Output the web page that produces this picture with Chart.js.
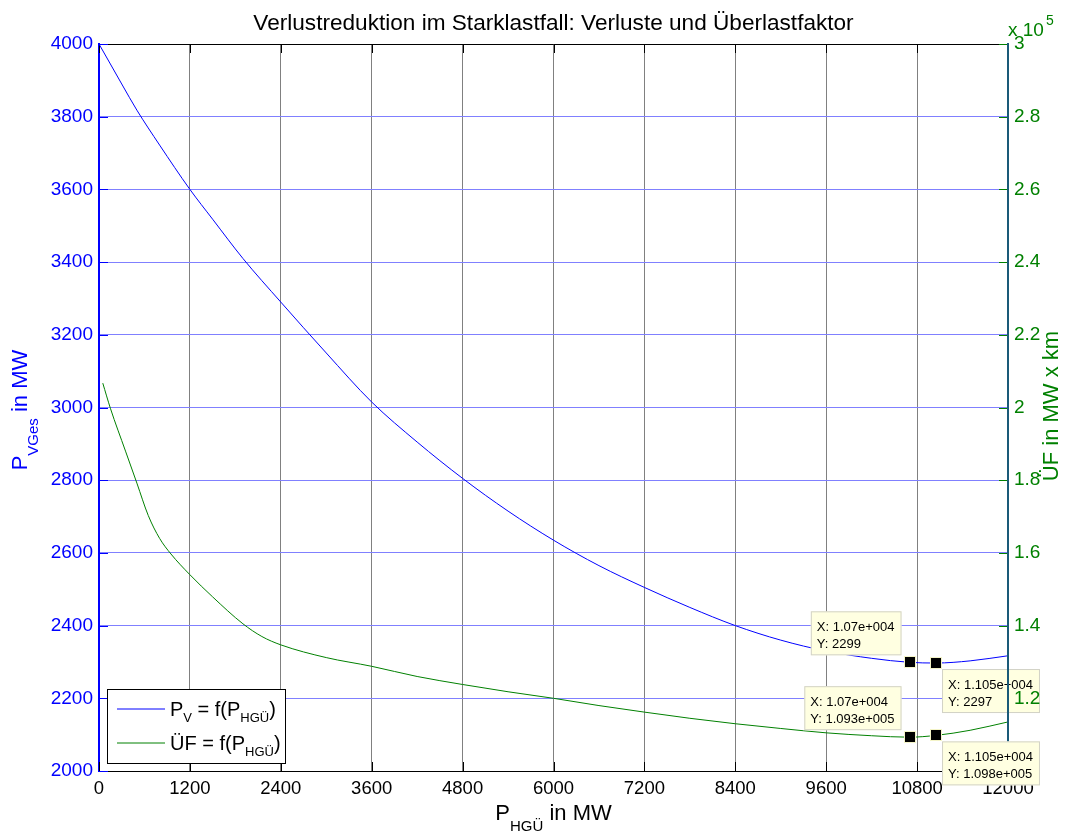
<!DOCTYPE html>
<html>
<head>
<meta charset="utf-8">
<script src="https://cdn.jsdelivr.net/npm/chart.js@4.4.1/dist/chart.umd.min.js"></script>
<style>
  html, body { margin: 0; padding: 0; background: #fff; }
  #wrap { width: 1070px; height: 832px; position: relative; }
</style>
</head>
<body>
<div id="wrap"><canvas id="verlustChart"></canvas></div>
<script>
// P_V = f(P_HGÜ), MW
const pvX = [0, 150, 300, 500, 800, 1200, 1500, 1900, 2400, 3000, 3600, 4200, 4800, 5400, 6000, 6600, 7200, 7800, 8400, 9000, 9600, 10200, 10700, 11050, 11500, 12000];
const pvVal = [4000, 3945, 3890, 3818, 3722, 3600, 3518, 3410, 3290, 3150, 3015, 2905, 2805, 2715, 2635, 2565, 2505, 2450, 2400, 2360, 2330, 2310, 2299, 2297, 2303, 2317];

// ÜF = f(P_HGÜ), MW x km
const ufX = [50, 150, 350, 500, 650, 800, 950, 1200, 1500, 1900, 2150, 2400, 3000, 3600, 4200, 4800, 5400, 6000, 6600, 7200, 7800, 8400, 9000, 9600, 10200, 10700, 11050, 11500, 12000];
const ufVal = [206700, 199800, 188000, 179200, 170300, 164000, 159700, 154000, 147900, 140500, 137000, 134700, 131200, 128800, 126000, 123800, 121800, 120000, 118000, 116200, 114500, 113000, 111700, 110500, 109700, 109300, 109800, 111200, 113500];

// Datatips
const tipX = [10700, 11050, 10700, 11050];
const tipY = [2299, 2297, 109300, 109800];
const tipAxis = ["y", "y", "y2", "y2"];
const tipText = [
    ["X: 1.07e+004", "Y: 2299"],
    ["X: 1.105e+004", "Y: 2297"],
    ["X: 1.07e+004", "Y: 1.093e+005"],
    ["X: 1.105e+004", "Y: 1.098e+005"]
];

const FONT = "'Liberation Sans', Arial, sans-serif";
const BLUE = "#0000ff";
const GREEN = "#008000";

// Text mit Tiefstellungen zeichnen
function richWidth(ctx, parts, size, subSize) {
    let w = 0;
    parts.forEach(p => {
        ctx.font = (p.sub ? subSize : size) + "px " + FONT;
        w += ctx.measureText(p.t).width;
    });
    return w;
}
function drawRich(ctx, parts, x, y, size, subSize, drop) {
    let cx = x;
    parts.forEach(p => {
        ctx.font = (p.sub ? subSize : size) + "px " + FONT;
        ctx.fillText(p.t, cx, p.sub ? y + drop : y);
        cx += ctx.measureText(p.t).width;
    });
}

function drawTip(ctx, i, px, py, side) {
    ctx.font = "13px " + FONT;
    const w = Math.max(...tipText[i].map(t => ctx.measureText(t).width)) + 13;
    const h = 44;
    let left, top;
    if (side === "ul") { left = px - 8 - w; top = py - 7 - h; }
    else { left = px + 6; top = py + 6; }
    ctx.fillStyle = "#ffffe1";
    ctx.fillRect(left, top, w, h);
    ctx.strokeStyle = "#d2d2c6";
    ctx.lineWidth = 1;
    ctx.strokeRect(left + 0.5, top + 0.5, w - 1, h - 1);
    ctx.fillStyle = "#000";
    ctx.textAlign = "left";
    ctx.textBaseline = "alphabetic";
    ctx.fillText(tipText[i][0], left + 6, top + 20);
    ctx.fillText(tipText[i][1], left + 6, top + 37);
}

const tipSides = ["ul", "dr", "ul", "dr"];

const decorPlugin = {
    id: "decor",
    beforeDatasetsDraw(chart) {
        const { ctx, chartArea: a, scales } = chart;
        ctx.save();
        // obere Rahmenlinie
        ctx.strokeStyle = "#000";
        ctx.lineWidth = 1;
        ctx.beginPath();
        ctx.moveTo(a.left, a.top + 0.5);
        ctx.lineTo(a.right, a.top + 0.5);
        ctx.stroke();
        // Tickmarken nach innen
        const tl = 9;
        scales.x.ticks.forEach(t => {
            const px = Math.round(scales.x.getPixelForValue(t.value)) + 0.5;
            ctx.beginPath();
            ctx.moveTo(px, a.bottom); ctx.lineTo(px, a.bottom - tl);
            ctx.moveTo(px, a.top); ctx.lineTo(px, a.top + tl);
            ctx.stroke();
        });
        ctx.strokeStyle = BLUE;
        scales.y.ticks.forEach(t => {
            const py = Math.round(scales.y.getPixelForValue(t.value)) + 0.5;
            ctx.beginPath();
            ctx.moveTo(a.left, py); ctx.lineTo(a.left + tl, py);
            ctx.stroke();
        });
        ctx.strokeStyle = GREEN;
        scales.y2.ticks.forEach(t => {
            const py = Math.round(scales.y2.getPixelForValue(t.value)) + 0.5;
            ctx.beginPath();
            ctx.moveTo(a.right, py); ctx.lineTo(a.right - tl, py);
            ctx.stroke();
        });
        ctx.restore();
    },
    afterDatasetsDraw(chart) {
        // Datatip rechts oben liegt unter der rechten Achse
        const { ctx, scales } = chart;
        ctx.save();
        drawTip(ctx, 1, scales.x.getPixelForValue(tipX[1]), scales.y.getPixelForValue(tipY[1]), tipSides[1]);
        ctx.restore();
    },
    afterDraw(chart) {
        const { ctx, chartArea: a, scales } = chart;
        ctx.save();
        [0, 2, 3].forEach(i => {
            drawTip(ctx, i, scales.x.getPixelForValue(tipX[i]), scales[tipAxis[i]].getPixelForValue(tipY[i]), tipSides[i]);
        });
        // Marker
        tipX.forEach((xv, i) => {
            const px = Math.round(scales.x.getPixelForValue(xv));
            const py = Math.round(scales[tipAxis[i]].getPixelForValue(tipY[i]));
            ctx.fillStyle = "#f4f4c8";
            ctx.fillRect(px - 6, py - 6, 12, 12);
            ctx.fillStyle = "#000";
            ctx.fillRect(px - 5, py - 5, 10, 10);
        });

        ctx.textBaseline = "alphabetic";
        ctx.textAlign = "left";

        // Titel
        ctx.fillStyle = "#000";
        ctx.font = "22.6px " + FONT;
        const title = "Verlustreduktion im Starklastfall: Verluste und Überlastfaktor";
        const cx = (a.left + a.right) / 2;
        ctx.fillText(title, cx - ctx.measureText(title).width / 2, 30);

        // x-Achsentitel
        const xParts = [{ t: "P" }, { t: "HGÜ", sub: true }, { t: " in MW" }];
        const xw = richWidth(ctx, xParts, 22, 15);
        ctx.fillStyle = "#000";
        drawRich(ctx, xParts, cx - xw / 2, 820, 22, 15, 11);

        // linker Achsentitel
        const yParts = [{ t: "P" }, { t: "VGes", sub: true }, { t: " in MW" }];
        const yw = richWidth(ctx, yParts, 22, 15);
        ctx.save();
        ctx.translate(27, 410);
        ctx.rotate(-Math.PI / 2);
        ctx.fillStyle = BLUE;
        drawRich(ctx, yParts, -yw / 2, 0, 22, 15, 11);
        ctx.restore();

        // rechter Achsentitel
        ctx.save();
        ctx.translate(1058, 406);
        ctx.rotate(-Math.PI / 2);
        ctx.fillStyle = GREEN;
        ctx.font = "22px " + FONT;
        const rt = "ÜF in MW x km";
        ctx.fillText(rt, -ctx.measureText(rt).width / 2, 0);
        ctx.restore();

        // x 10^5
        ctx.fillStyle = GREEN;
        ctx.font = "19px " + FONT;
        ctx.fillText("x 10", a.right, 36);
        const ew = ctx.measureText("x 10").width;
        ctx.font = "14px " + FONT;
        ctx.fillText("5", a.right + ew + 2, 25);

        // Legende
        const lx = 107, ly = 689, lw = 178, lh = 74;
        ctx.fillStyle = "#fff";
        ctx.fillRect(lx, ly, lw, lh);
        ctx.strokeStyle = "#000";
        ctx.lineWidth = 1;
        ctx.strokeRect(lx + 0.5, ly + 0.5, lw, lh);
        const entries = [
            { color: BLUE, y: 709, parts: [{ t: "P" }, { t: "V", sub: true }, { t: " = f(P" }, { t: "HGÜ", sub: true }, { t: ")" }] },
            { color: GREEN, y: 743, parts: [{ t: "ÜF = f(P" }, { t: "HGÜ", sub: true }, { t: ")" }] }
        ];
        entries.forEach(e => {
            ctx.strokeStyle = e.color;
            ctx.lineWidth = 1;
            ctx.beginPath();
            ctx.moveTo(117, e.y);
            ctx.lineTo(165, e.y);
            ctx.stroke();
            ctx.fillStyle = "#000";
            drawRich(ctx, e.parts, 170, e.y + 7, 20, 13, 6);
        });
        ctx.restore();
    }
};

const ctx = document.getElementById("verlustChart").getContext("2d");

const chart = new Chart(ctx, {
    type: "line",
    data: {
        datasets: [
            {
                label: "P_V = f(P_HGÜ)",
                data: pvX.map((x, i) => ({ x: x, y: pvVal[i] })),
                borderColor: BLUE,
                borderWidth: 1,
                pointRadius: 0,
                cubicInterpolationMode: "monotone",
                yAxisID: "y"
            },
            {
                label: "ÜF = f(P_HGÜ)",
                data: ufX.map((x, i) => ({ x: x, y: ufVal[i] })),
                borderColor: GREEN,
                borderWidth: 1,
                pointRadius: 0,
                cubicInterpolationMode: "monotone",
                yAxisID: "y2"
            }
        ]
    },
    options: {
        responsive: true,
        maintainAspectRatio: false,
        animation: false,
        layout: { padding: { top: 44, left: 0, right: 0, bottom: 0 } },
        plugins: {
            legend: { display: false },
            title: { display: false },
            tooltip: { enabled: false }
        },
        scales: {
            x: {
                type: "linear",
                min: 0,
                max: 12000,
                ticks: {
                    stepSize: 1200, color: "#000", font: { family: FONT, size: 18.5 }, padding: 7, maxRotation: 0,
                    callback: v => String(v)
                },
                grid: {
                    drawTicks: false,
                    color: c => (c.tick && (c.tick.value === 0 || c.tick.value === 12000)) ? "rgba(0,0,0,0)" : "#808080"
                },
                border: { color: "#000", width: 1 },
                afterFit: s => { s.height = 61; }
            },
            y: {
                position: "left",
                min: 2000,
                max: 4000,
                ticks: {
                    stepSize: 200, color: BLUE, font: { family: FONT, size: 19 }, padding: 6,
                    callback: v => String(v)
                },
                grid: {
                    drawTicks: false,
                    color: c => (c.tick && (c.tick.value === 2000 || c.tick.value === 4000)) ? "rgba(0,0,0,0)" : "#8080ff"
                },
                border: { color: BLUE, width: 2 },
                afterFit: s => { s.width = 99; }
            },
            y2: {
                position: "right",
                min: 100000,
                max: 300000,
                ticks: {
                    stepSize: 20000,
                    color: GREEN,
                    font: { family: FONT, size: 19 },
                    padding: 6,
                    z: 1,
                    callback: v => String(Number((v / 1e5).toFixed(1)))
                },
                grid: { display: false, drawTicks: false },
                border: { color: "#1a5a78", width: 2, z: 1 },
                afterFit: s => { s.width = 62; }
            }
        }
    },
    plugins: [decorPlugin]
});
</script>
</body>
</html>
